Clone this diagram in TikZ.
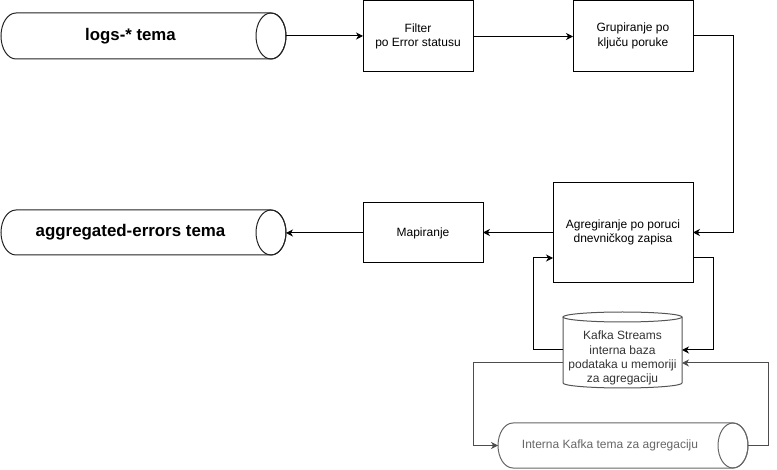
\documentclass[tikz,border=0pt]{standalone}
\usepackage{fontspec}
\setmainfont{Liberation Sans}
\usetikzlibrary{arrows.meta,calc}
\definecolor{dbline}{HTML}{555555}
\definecolor{dbtext}{HTML}{333333}
\definecolor{intline}{HTML}{666666}
\definecolor{inttext}{HTML}{666666}
\definecolor{loopgray}{HTML}{4D4D4D}
\definecolor{cylline}{HTML}{222222}
\tikzset{
  box/.style={draw=black, line width=1pt, inner sep=0pt, outer sep=0pt, align=center,
    font=\fontsize{12}{14.4}\selectfont},
  cylnode/.style={draw=none, inner sep=0pt, outer sep=0pt, align=center},
  cyltext/.style={inner sep=0pt, align=center},
  conn/.style={line width=1pt, -{Stealth[length=7pt,width=7pt,inset=2.2pt]}},
}
% horizontal cylinder outline: #1 options, #2 node name, #3 y radius
\newcommand{\hcylshape}[3][]{%
  \draw[line width=1pt,#1] ($(#2.north west)+(15pt,0)$) -- ($(#2.north east)+(-15pt,0)$)
     arc[start angle=90,end angle=-90,x radius=15pt,y radius=#3]
     -- ($(#2.south west)+(15pt,0)$)
     arc[start angle=270,end angle=90,x radius=15pt,y radius=#3] -- cycle;
  \draw[line width=1pt,#1] ($(#2.east)+(-15pt,0)$) ellipse[x radius=15pt,y radius=#3];}
\begin{document}
\begin{tikzpicture}[x=1pt,y=1pt]
\useasboundingbox (0,0) rectangle (777,-470);

% nodes
\node[cylnode, minimum width=285pt, minimum height=46pt,
  label={[cyltext, xshift=-13pt, font=\fontsize{16.8}{19}\selectfont\bfseries]center:logs-* tema}]
  (logs) at (143.5,-36) {};
\node[box, minimum width=110pt, minimum height=71pt] (filter) at (418,-36.5) {Filter\\po Error statusu};
\node[box, minimum width=120pt, minimum height=71pt] (grup) at (633,-36) {Grupiranje po\\ključu poruke};
\node[box, minimum width=140pt, minimum height=100pt] (agg) at (623,-232.5) {Agregiranje po poruci\\dnevničkog zapisa};
\node[box, minimum width=120pt, minimum height=60pt] (map) at (423,-233) {Mapiranje};
\node[cylnode, minimum width=285pt, minimum height=45pt,
  label={[cyltext, xshift=-13pt, font=\fontsize{16.9}{19}\selectfont\bfseries]center:aggregated-errors tema}]
  (aggr) at (143.5,-232.5) {};
\node[cylnode, minimum width=119pt, minimum height=76pt,
  label={[cyltext, yshift=-8pt, text=dbtext, font=\fontsize{12}{14.2}\selectfont]center:Kafka Streams\\interna baza\\podataka u memoriji\\za agregaciju}]
  (db) at (622.5,-350) {};
\node[cylnode, minimum width=250pt, minimum height=45pt,
  label={[cyltext, xshift=-13pt, text=inttext, font=\fontsize{12}{14.4}\selectfont]center:Interna Kafka tema za agregaciju}]
  (int) at (623,-445.5) {};

% cylinder outlines
\hcylshape[draw=cylline]{logs}{23pt}
\hcylshape[draw=cylline]{aggr}{22.5pt}
\hcylshape[draw=intline]{int}{22.5pt}
% vertical cylinder (db)
\draw[line width=1pt, draw=dbline]
  ($(db.north west)+(0,-5pt)$) -- ($(db.south west)+(0,5pt)$)
  arc[start angle=180,end angle=360,x radius=59.5pt,y radius=5pt]
  -- ($(db.north east)+(0,-5pt)$);
\draw[line width=1pt, draw=dbline] ($(db.north)+(0,-5pt)$) ellipse[x radius=59.5pt,y radius=5pt];

% connectors
\draw[conn] (logs.east) -- (logs.east -| filter.west);
\draw[conn] (filter.east) -- (filter.east -| grup.west);
\draw[conn] (grup.east) -- ++(40pt,0) |- (agg.east);
\draw[conn] (agg.west) -- (agg.west -| map.east);
\draw[conn] (map.west) -- (map.west -| aggr.east);
\draw[conn] (db.west) -- ++(-30pt,0) |- ([yshift=24.5pt]agg.south west);
\draw[conn] ([yshift=24.5pt]agg.south east) -- ++(20pt,0) |- (db.east);
\draw[conn, draw=loopgray] ([yshift=-13pt]db.west) -- ++(-90pt,0) |- (int.west);
\draw[conn, draw=loopgray] (int.east) -- ++(20pt,0) |- ([yshift=-13pt]db.east);
\end{tikzpicture}
\end{document}
